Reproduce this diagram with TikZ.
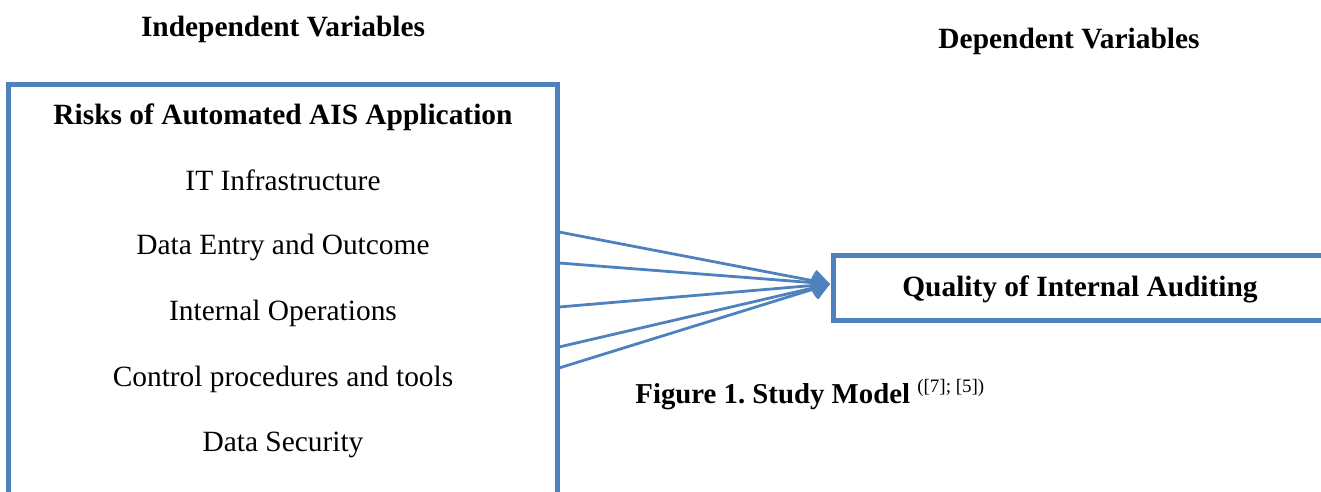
\documentclass[tikz,border=0pt]{standalone}
\usepackage{fontspec}
\setmainfont{Liberation Serif}
\usetikzlibrary{positioning,arrows.meta}
\definecolor{boxblue}{HTML}{4F81BD}
\tikzset{
  txt/.style={anchor=base, inner sep=0pt, font=\fontsize{14.7}{17}\selectfont},
  head/.style={txt, font=\fontsize{14.7}{17}\selectfont\bfseries},
  frame/.style={draw=boxblue, line width=2.5pt},
  link/.style={draw=boxblue, line width=1.4pt, -{Straight Barb[length=7pt,width=10pt]}}
}
\begin{document}
\frenchspacing
\begin{tikzpicture}[x=0.5pt, y=-0.5pt]
        \useasboundingbox (0,0) rectangle (1321,492);
        \begin{scope}
        \clip (0,0) rectangle (1321,492);

        % Column headings
        \node[head] (indep) at (283,37) {Independent Variables};
        \node[head] (dep) at (1069,49) {Dependent Variables};

        % Left box, open at the bottom
        \draw[frame] (8.5,520) -- (8.5,84.5) -- (557.5,84.5) -- (557.5,520);
        \node[head] (risks) at (283,125) {Risks of Automated AIS Application};
        \node[txt] (infra) at (283,190) {IT Infrastructure};
        \node[txt] (entry) at (283,254) {Data Entry and Outcome};
        \node[txt] (ops) at (283,320) {Internal Operations};
        \node[txt] (ctrl) at (283,386) {Control procedures and tools};
        \node[txt] (sec) at (283,451) {Data Security};

        % Right box, cut at the page edge
        \draw[frame] (1340,255.5) -- (833,255.5) -- (833,320.5) -- (1340,320.5);
        \node[head] (qual) at (1080,296) {Quality of Internal Auditing};
        \coordinate (tip) at (830,284);

        % Arrows from the left box to the right box
        \foreach \y [count=\i] in {232,263,307,347,368} {
            \coordinate (src\i) at (559,\y);
            \draw[link] (src\i) -- (tip);
        }

        % Caption
        \node[txt, anchor=base west, font=\fontsize{14.4}{17}\selectfont\bfseries] (cap) at (635,403)
            {Figure 1. Study Model \raisebox{5.5pt}{\fontsize{9.5}{10}\mdseries\selectfont ([7]; [5])}};
        \end{scope}
    \end{tikzpicture}
\end{document}
